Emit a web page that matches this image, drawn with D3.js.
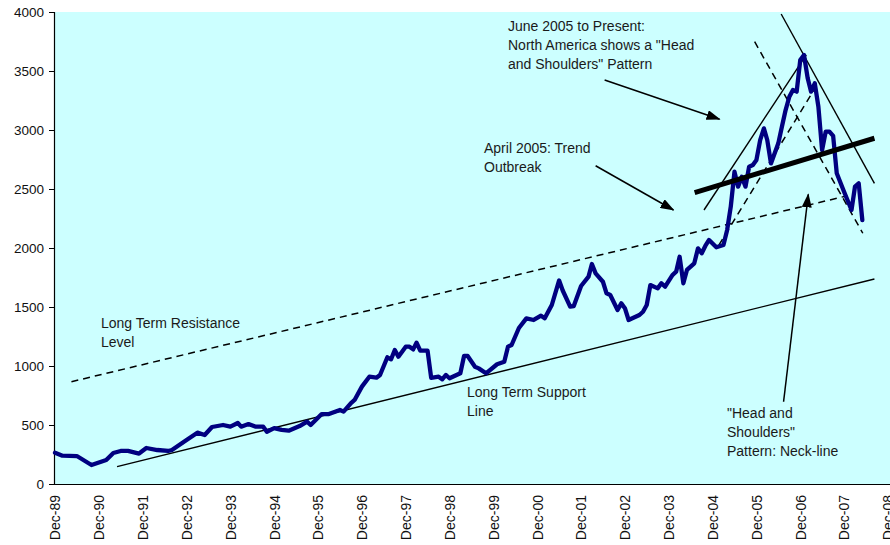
<!DOCTYPE html>
<html>
<head>
<meta charset="utf-8">
<script src="https://cdn.jsdelivr.net/npm/d3@7"></script>
<style>
  html, body { margin: 0; padding: 0; background: #ffffff; }
  svg { display: block; font-family: "Liberation Sans", Arial, sans-serif; }
</style>
</head>
<body>
<svg id="chart" width="890" height="545"></svg>
<script>
// ---------- DATA ----------
const dates = [
  "1989-12","1990-02","1990-06","1990-10","1991-02","1991-04","1991-06","1991-08","1991-11",
  "1992-01","1992-04","1992-07","1992-08","1992-12","1993-03","1993-05","1993-07","1993-10","1993-12",
  "1994-02","1994-03","1994-05","1994-07","1994-09","1994-10","1994-12","1995-02","1995-04","1995-07",
  "1995-09","1995-10","1996-01","1996-03","1996-06","1996-07","1996-09","1996-10","1996-12","1997-02",
  "1997-04","1997-05","1997-07","1997-08","1997-09","1997-10","1997-12","1998-01","1998-02","1998-03",
  "1998-04","1998-06","1998-07","1998-09","1998-10","1998-11","1998-12","1999-03","1999-04","1999-05",
  "1999-07","1999-08","1999-10","2000-01","2000-03","2000-04","2000-05","2000-07","2000-09","2000-11",
  "2001-01","2001-02","2001-04","2001-06","2001-07","2001-09","2001-10","2001-12","2002-02","2002-03",
  "2002-04","2002-06","2002-07","2002-08","2002-10","2002-11","2002-12","2003-01","2003-02","2003-04",
  "2003-05","2003-06","2003-07","2003-09","2003-10","2003-11","2004-01","2004-02","2004-03","2004-04",
  "2004-05","2004-07","2004-08","2004-09","2004-10","2004-11","2005-01","2005-03","2005-04","2005-05",
  "2005-06","2005-07","2005-08","2005-09","2005-10","2005-11","2005-12","2006-01","2006-02","2006-03",
  "2006-04","2006-06","2006-07","2006-08","2006-09","2006-10","2006-11","2006-12","2007-01","2007-02",
  "2007-03","2007-04","2007-05","2007-06","2007-07","2007-08","2007-09","2007-10","2007-12","2008-02",
  "2008-03","2008-04","2008-05"
];
const values = [
  265,240,237,161,203,263,280,280,258,
  305,288,280,288,373,435,415,483,500,486,
  517,486,508,486,486,443,474,458,452,491,
  528,500,593,593,627,613,686,712,825,909,
  901,924,1074,1057,1136,1079,1164,1164,1141,1198,
  1130,1130,900,909,887,924,896,938,1085,1085,
  994,980,938,1015,1036,1164,1178,1322,1404,1390,
  1426,1404,1517,1725,1640,1503,1508,1678,1757,1864,
  1785,1714,1616,1602,1475,1531,1490,1390,1404,1432,
  1460,1517,1686,1658,1701,1672,1771,1799,1926,1701,
  1814,1870,1997,1955,2017,2068,2006,2025,2153,2350,
  2647,2520,2604,2520,2689,2703,2746,2915,3014,2915,
  2717,2887,3028,3169,3282,3339,3325,3593,3636,3438,
  3325,3396,3198,2830,2986,2986,2950,2633,2477,2322,
  2520,2548,2237
];

// x-axis tick labels (December of each year)
const tickYears = [1989,1990,1991,1992,1993,1994,1995,1996,1997,1998,1999,2000,2001,2002,2003,2004,2005,2006,2007,2008];
const yTicks = [0,500,1000,1500,2000,2500,3000,3500,4000];

// Trend / pattern lines (start date, start value, end date, end value)
const trendNames  = ["resistance","support","neckline","leftFlank","rightFlank","fallDash","riseDash"];
const trendStartD = ["1990-04-17","1991-05-02","2004-07-04","2004-09-20","2006-06-25","2005-11-16","2005-01-22"];
const trendStartV = [867, 147, 2469, 2322, 3983, 3748, 2025];
const trendEndD   = ["2007-12-21","2008-08-10","2008-08-10","2007-01-20","2008-08-10","2008-05-05","2007-03-25"];
const trendEndV   = [2441, 1737, 2930, 3636, 2548, 2125, 3339];
const trendKind   = ["dash","thin","thick","thin","thin","dash","dash"];

// Arrows (tail date/value -> head date/value)
const arrowStartD = ["2002-06-15","2002-04-01","2006-07-15"];
const arrowStartV = [3424, 2697, 697];
const arrowEndD   = ["2005-01-28","2004-01-10","2007-02-06"];
const arrowEndV   = [3091, 2322, 2455];

// Annotation texts
const notes = [
  ["June 2005 to Present:", "North America shows a \"Head", "and Shoulders\" Pattern"],
  ["April 2005: Trend", "Outbreak"],
  ["Long Term Resistance", "Level"],
  ["Long Term Support", "Line"],
  ["\"Head and", "Shoulders\"", "Pattern: Neck-line"]
];

// ---------- LAYOUT ----------
const plot = {left: 54, right: 890, top: 12, bottom: 484};
const parseM = d3.timeParse("%Y-%m");
const parseD = d3.timeParse("%Y-%m-%d");
const pd = s => s.length > 7 ? parseD(s) : parseM(s);

const x = d3.scaleTime()
  .domain([new Date(1989, 11, 1), new Date(2008, 11, 1)])
  .range([55, 888]);
const y = d3.scaleLinear().domain([0, 4000]).range([plot.bottom, plot.top]);

const svg = d3.select("#chart");

svg.append("rect")
  .attr("x", plot.left).attr("y", plot.top)
  .attr("width", plot.right - plot.left).attr("height", plot.bottom - plot.top)
  .attr("fill", "#ccffff");

svg.append("defs").append("marker")
  .attr("id", "ah")
  .attr("markerUnits", "userSpaceOnUse")
  .attr("viewBox", "0 0 14 10")
  .attr("refX", 13).attr("refY", 5)
  .attr("markerWidth", 14).attr("markerHeight", 10)
  .attr("orient", "auto")
  .append("path").attr("d", "M0,0 L14,5 L0,10 Z").attr("fill", "#000");

const yAxis = d3.axisLeft(y).tickValues(yTicks).tickSize(5).tickPadding(5).tickFormat(d3.format("d"));
const gy = svg.append("g").attr("transform", `translate(${plot.left},0)`).call(yAxis);
gy.select(".domain").attr("stroke", "#000").attr("stroke-width", 1.2);
gy.selectAll(".tick line").attr("stroke", "#000");
gy.selectAll("text").attr("font-size", "13.5px").attr("fill", "#111").attr("font-family", "Liberation Sans, Arial, sans-serif");

const xAxis = d3.axisBottom(x)
  .tickValues(tickYears.map(yr => new Date(yr, 11, 1)))
  .tickSize(0)
  .tickFormat(d3.timeFormat("Dec-%y"));
const gx = svg.append("g").attr("transform", `translate(0,${plot.bottom})`).call(xAxis);
gx.select(".domain").attr("d", `M${plot.left},0.5H${plot.right}`).attr("stroke", "#000").attr("stroke-width", 1.2);
gx.selectAll("text")
  .attr("font-size", "14px").attr("fill", "#111").attr("font-family", "Liberation Sans, Arial, sans-serif")
  .attr("transform", "rotate(-90)")
  .attr("text-anchor", "end")
  .attr("x", -11).attr("y", 0).attr("dy", "0.35em");

const trends = trendNames.map((n, i) => ({
  kind: trendKind[i],
  x1: x(pd(trendStartD[i])), y1: y(trendStartV[i]),
  x2: x(pd(trendEndD[i])), y2: y(trendEndV[i])
}));
svg.append("g").selectAll("line").data(trends.filter(t => t.kind !== "thick")).join("line")
  .attr("x1", d => d.x1).attr("y1", d => d.y1).attr("x2", d => d.x2).attr("y2", d => d.y2)
  .attr("stroke", "#000")
  .attr("stroke-width", d => d.kind === "dash" ? 1.5 : 1.4)
  .attr("stroke-dasharray", d => d.kind === "dash" ? "7,5" : null);

const series = dates.map((d, i) => ({date: pd(d), value: values[i]}));
svg.append("path")
  .datum(series)
  .attr("fill", "none")
  .attr("stroke", "#000080")
  .attr("stroke-width", 4.3)
  .attr("stroke-linejoin", "round")
  .attr("stroke-linecap", "round")
  .attr("d", d3.line().x(d => x(d.date)).y(d => y(d.value)));

svg.append("g").selectAll("line").data(trends.filter(t => t.kind === "thick")).join("line")
  .attr("x1", d => d.x1).attr("y1", d => d.y1).attr("x2", d => d.x2).attr("y2", d => d.y2)
  .attr("stroke", "#000").attr("stroke-width", 5);

const arrows = arrowStartD.map((d, i) => ({
  x1: x(pd(d)), y1: y(arrowStartV[i]), x2: x(pd(arrowEndD[i])), y2: y(arrowEndV[i])
}));
svg.append("g").selectAll("line").data(arrows).join("line")
  .attr("x1", d => d.x1).attr("y1", d => d.y1).attr("x2", d => d.x2).attr("y2", d => d.y2)
  .attr("stroke", "#000").attr("stroke-width", 1.5)
  .attr("marker-end", "url(#ah)");

const notePos = [[508, 31], [484, 153], [101, 328], [467, 397], [727, 418]];
const lineH = 19;
notes.forEach((lines, i) => {
  const t = svg.append("text")
    .attr("x", notePos[i][0]).attr("y", notePos[i][1])
    .attr("font-size", "14px").attr("fill", "#1a1a1a");
  lines.forEach((s, j) => {
    t.append("tspan").attr("x", notePos[i][0]).attr("dy", j === 0 ? 0 : lineH).text(s);
  });
});
</script>
</body>
</html>
